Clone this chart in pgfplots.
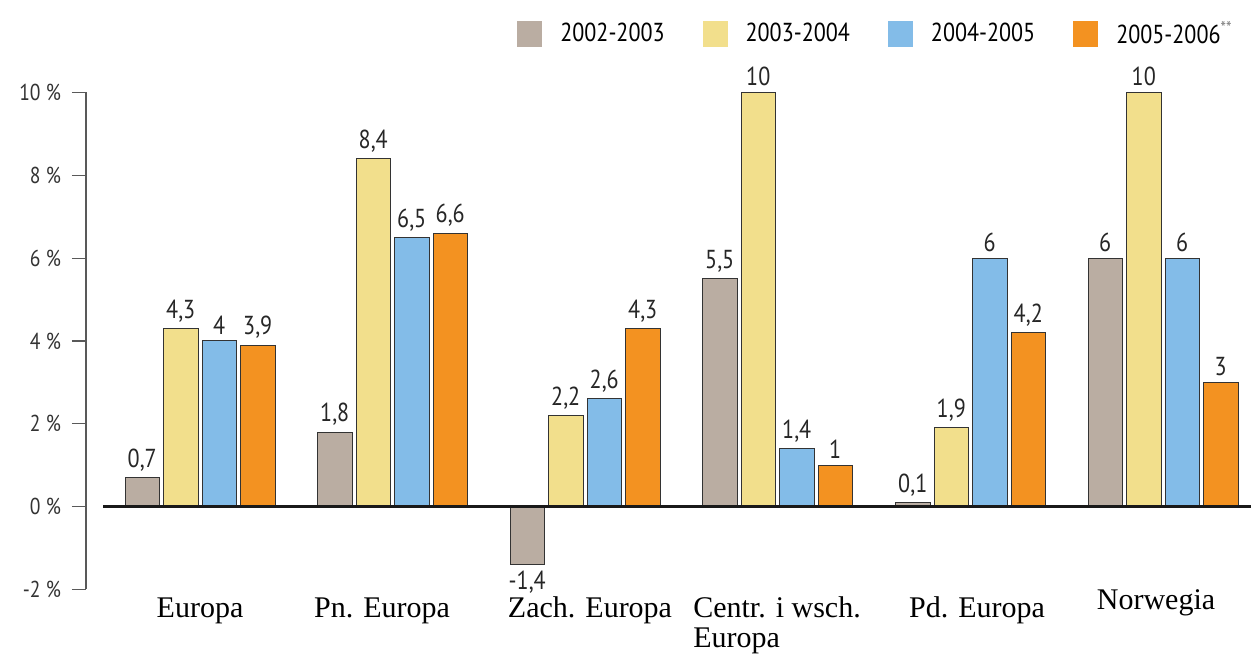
\documentclass[border=0pt]{standalone}
\usepackage{pgfplots}
\pgfplotsset{compat=1.18}
\usepackage{fontspec}
\setmainfont{Liberation Serif}
\newfontfamily\sansf[FakeStretch=0.85]{PT Sans}
\definecolor{cgray}{HTML}{BAADA2}
\definecolor{cyellow}{HTML}{F2DF8C}
\definecolor{cblue}{HTML}{83BCE8}
\definecolor{corange}{HTML}{F39221}
\begin{document}
\begin{tikzpicture}
\begin{axis}[
  scale only axis, width=582.5pt, height=248.5pt,
  xmin=86, xmax=1251, ymin=-2, ymax=10,
  axis y line=left, axis x line=bottom,
  x axis line style={draw=none},
  y axis line style={-, draw=black!65, line width=0.6pt},
  ytick={-2,0,2,4,6,8,10},
  yticklabels={-2 \%,0 \%,2 \%,4 \%,6 \%,8 \%,10 \%},
  tick align=outside, major tick length=7pt,
  ytick style={draw=black!65, line width=0.6pt},
  xtick style={draw=none},
  yticklabel style={font=\sansf\fontsize{11.5}{13}\selectfont, text=black!80, xshift=-2pt},
  xtick={200,382,590,777,977,1156},
  xticklabels={Europa, Pn. Europa, Zach. Europa, {\begin{tabular}[t]{@{}l@{}}Centr. i wsch.\\Europa\end{tabular}}, Pd. Europa, {\raisebox{4pt}{Norwegia}}},
  xticklabel style={font=\fontsize{15}{15}\selectfont, anchor=base, yshift=-7pt},
  ybar=2pt, bar width=17.25pt,
  /pgf/number format/use comma,
  /pgf/number format/assume math mode=true,
  nodes near coords,
  every node near coord/.append style={font=\sansf\fontsize{13}{14}\selectfont, text=black!85, inner ysep=3pt},
  clip=false,
  legend image code/.code={\fill[#1,draw=none] (0pt,-6.5pt) rectangle (12.5pt,6.5pt);},
  legend columns=4,
  legend style={draw=none, fill=none, at={(0.993,1.118)}, anchor=east,
    font=\sansf\fontsize{13}{14}\selectfont,
    /tikz/every odd column/.append style={column sep=7pt},
    /tikz/every even column/.append style={column sep=17pt}},
]
\addplot[fill=cgray, draw=black!80, line width=0.5pt] coordinates {(200,0.7) (392.5,1.8) (585,-1.4) (777.5,5.5) (970.5,0.1) (1163,6)};
\addplot[fill=cyellow, draw=black!80, line width=0.5pt] coordinates {(200,4.3) (392.5,8.4) (585,2.2) (777.5,10) (970.5,1.9) (1163,10)};
\addplot[fill=cblue, draw=black!80, line width=0.5pt] coordinates {(200,4) (392.5,6.5) (585,2.6) (777.5,1.4) (970.5,6) (1163,6)};
\addplot[fill=corange, draw=black!80, line width=0.5pt] coordinates {(200,3.9) (392.5,6.6) (585,4.3) (777.5,1) (970.5,4.2) (1163,3)};
\legend{2002-2003, 2003-2004, 2004-2005, 2005-2006\textsuperscript{\color{black!50}**}}
\draw[line width=1.5pt, black!90] (axis cs:103,0) -- (axis cs:1251,0);
\coordinate (bbTL) at (axis cs:0,12.233);
\coordinate (bbBR) at (axis cs:1251,-3.846);
\end{axis}
\pgfresetboundingbox
\useasboundingbox (bbTL) rectangle (bbBR);
\end{tikzpicture}
\end{document}
